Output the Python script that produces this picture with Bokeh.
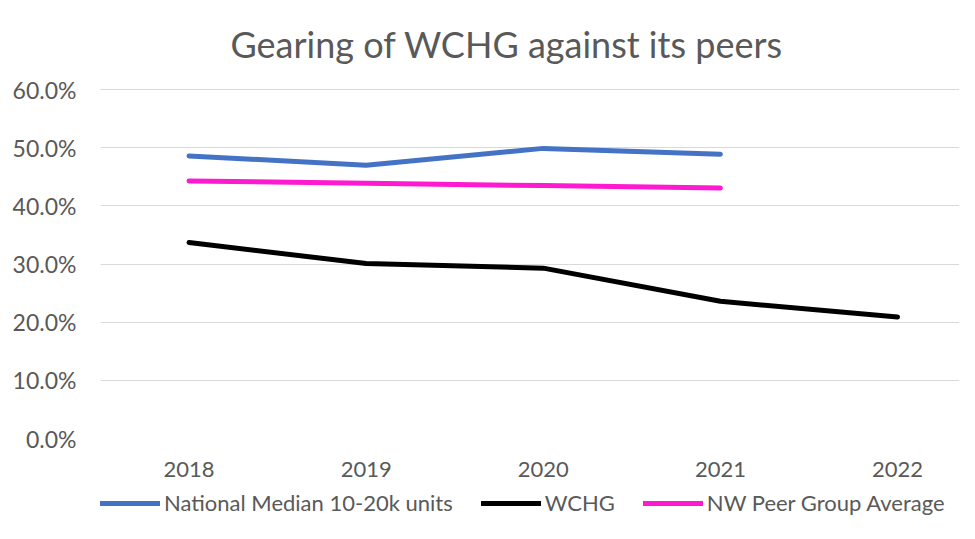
from bokeh.plotting import figure
from bokeh.layouts import column
from bokeh.models import ColumnDataSource, Legend, LegendItem, FixedTicker, NumeralTickFormatter, Range1d
from bokeh.embed import file_html
from bokeh.resources import INLINE

years = ["2018", "2019", "2020", "2021", "2022"]
national_median = [0.486, 0.470, 0.499, 0.489]   # 2018-2021
wchg = [0.337, 0.301, 0.293, 0.236, 0.209]        # 2018-2022
nw_peer = [0.443, 0.439, 0.435, 0.431]           # 2018-2021
y_ticks = [0.0, 0.1, 0.2, 0.3, 0.4, 0.5, 0.6]
title_text = "Gearing of WCHG against its peers"
series_names = ["National Median 10-20k units", "WCHG", "NW Peer Group Average"]
series_colors = ["#4472C4", "#000000", "#FF19D0"]

FONT = "Lato"
GREY = "#595959"

pos = list(range(len(years)))

p = figure(width=959, height=482, x_range=Range1d(-0.5, 4.35), y_range=Range1d(0, 0.602),
           output_backend="svg", toolbar_location=None,
           min_border_left=100, min_border_right=0, min_border_top=88, min_border_bottom=44)
p.outline_line_color = None
p.background_fill_color = "white"

p.title.text = title_text
p.title.align = "left"
p.title.offset = 130
p.title.vertical_align = "top"
p.title.text_font = FONT
p.title.text_font_size = "36px"
p.title.text_font_style = "normal"
p.title.text_color = GREY
p.title.standoff = 42

p.xgrid.grid_line_color = None
p.ygrid.grid_line_color = "#d9d9d9"
p.ygrid.grid_line_width = 1

p.xaxis.ticker = FixedTicker(ticks=pos)
p.xaxis.major_label_overrides = {i: y for i, y in zip(pos, years)}
p.yaxis.ticker = FixedTicker(ticks=y_ticks)
p.yaxis.formatter = NumeralTickFormatter(format="0.0%")
for ax in (p.xaxis, p.yaxis):
    ax.axis_line_color = None
    ax.major_tick_line_color = None
    ax.minor_tick_line_color = None
    ax.major_label_text_font = FONT
    ax.major_label_text_color = GREY
p.xaxis.major_label_text_font_size = "22px"
p.yaxis.major_label_text_font_size = "23px"
p.yaxis.major_label_standoff = 18
p.xaxis.major_label_standoff = 17

src_n = ColumnDataSource(dict(x=pos[:len(national_median)], y=national_median))
src_w = ColumnDataSource(dict(x=pos[:len(wchg)], y=wchg))
src_p = ColumnDataSource(dict(x=pos[:len(nw_peer)], y=nw_peer))
sources = [src_n, src_w, src_p]

for src, col in zip(sources, series_colors):
    p.line("x", "y", source=src, line_color=col, line_width=5, line_cap="round", line_join="round")

# legend strip below the chart (its own lines lie outside its visible range)
leg = figure(width=959, height=41, x_range=Range1d(0, 1), y_range=Range1d(1, 2),
             output_backend="svg", toolbar_location=None,
             x_axis_location=None, y_axis_location=None, min_border=0)
leg.outline_line_color = None
leg.grid.visible = False
items = []
for name, src, col in zip(series_names, sources, series_colors):
    r = leg.line("x", "y", source=src, line_color=col, line_width=5, line_cap="round")
    items.append(LegendItem(label=name, renderers=[r]))

legend = Legend(items=items, orientation="horizontal", location=(0, 7))
legend.label_text_font = FONT
legend.label_text_font_size = "22px"
legend.label_text_color = GREY
legend.glyph_width = 60
legend.glyph_height = 20
legend.label_standoff = 4
legend.spacing = 28
legend.border_line_color = None
legend.background_fill_alpha = 0
legend.padding = 0
legend.margin = 0
leg.add_layout(legend)

layout = column(p, leg, spacing=0)

open("out.html", "w").write(file_html(layout, INLINE))
